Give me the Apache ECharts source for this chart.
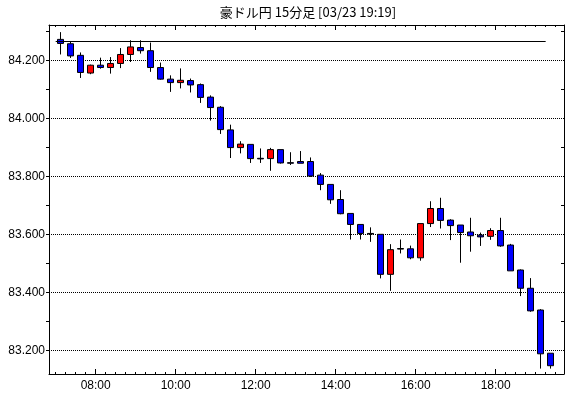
<!DOCTYPE html>
<html><head><meta charset="utf-8">
<script src="https://cdn.jsdelivr.net/npm/echarts@6/dist/echarts.min.js"></script>
<style>html,body{margin:0;padding:0;background:#fff}#c{width:570px;height:398px}</style>
</head><body><div id="c"></div>
<script>
const chartTitle = '豪ドル円 15分足 [03/23 19:19]';
const times = ['07:00','07:15','07:30','07:45','08:00','08:15','08:30','08:45','09:00','09:15',
  '09:30','09:45','10:00','10:15','10:30','10:45','11:00','11:15','11:30','11:45',
  '12:00','12:15','12:30','12:45','13:00','13:15','13:30','13:45','14:00','14:15',
  '14:30','14:45','15:00','15:15','15:30','15:45','16:00','16:15','16:30','16:45',
  '17:00','17:15','17:30','17:45','18:00','18:15','18:30','18:45','19:00','19:15'];
const opens = [84.272,84.257,84.217,84.156,84.183,84.175,84.189,84.220,84.244,84.233,
  84.175,84.135,84.123,84.130,84.116,84.073,84.038,83.960,83.899,83.910,
  83.862,83.861,83.892,83.847,83.851,83.851,83.804,83.772,83.720,83.672,
  83.634,83.603,83.600,83.462,83.551,83.550,83.519,83.637,83.689,83.649,
  83.632,83.608,83.597,83.593,83.613,83.563,83.477,83.414,83.339,83.190];
const closes = [84.258,84.215,84.158,84.183,84.175,84.189,84.220,84.246,84.233,84.175,
  84.135,84.123,84.131,84.115,84.072,84.037,83.961,83.899,83.911,83.861,
  83.860,83.892,83.846,83.845,83.845,83.801,83.772,83.719,83.671,83.634,
  83.603,83.601,83.462,83.547,83.549,83.519,83.637,83.689,83.648,83.630,
  83.606,83.595,83.591,83.613,83.560,83.474,83.414,83.336,83.188,83.147];
const lows = [84.220,84.208,84.139,84.152,84.171,84.154,84.173,84.194,84.223,84.160,
  84.133,84.091,84.103,84.089,84.053,83.992,83.946,83.863,83.879,83.846,
  83.846,83.819,83.844,83.839,83.845,83.798,83.752,83.705,83.669,83.582,
  83.582,83.574,83.448,83.405,83.534,83.514,83.509,83.625,83.620,83.580,
  83.502,83.540,83.560,83.581,83.557,83.474,83.387,83.333,83.137,83.137];
const highs = [84.297,84.266,84.227,84.185,84.209,84.211,84.242,84.269,84.269,84.261,
  84.192,84.148,84.172,84.137,84.120,84.079,84.042,83.978,83.921,83.910,
  83.896,83.898,83.892,83.883,83.887,83.865,83.811,83.772,83.752,83.672,
  83.634,83.624,83.600,83.566,83.582,83.561,83.637,83.714,83.726,83.652,
  83.632,83.657,83.606,83.621,83.657,83.567,83.479,83.449,83.342,83.190];
const refLevel = 84.265;
const refFrom = '07:00';
const refTo = '19:15';
const yTickLabels = ['83.200','83.400','83.600','83.800','84.000','84.200'];
const xTickLabels = ['08:00','10:00','12:00','14:00','16:00','18:00'];

function toMin(t){ const p = t.split(':').map(Number); return p[0]*60 + p[1]; }
const barMinutes = 15;
const candleData = times.map((t,i)=>[toMin(t)+barMinutes/2, opens[i], closes[i], lows[i], highs[i]]);

const xMin = 410, xMax = 1182.5;
const yMin = 83.1184, yMax = 84.3216;
const quarterTicks = [];
for (let m = 420; m <= 1170; m += 15) quarterTicks.push(m);
const hourTicks = xTickLabels.map(toMin);
const yMajor = yTickLabels.map(Number);
const yOdd = [];
for (let k = 832; k <= 843; k++) { if (k % 2 === 1) yOdd.push(k/10); }

const BLACK = '#000';
const font = 'Liberation Sans';
function xAx(pos, ticks, len, showLine, labels) {
  return {
    type:'value', min:xMin, max:xMax, position:pos,
    axisLine:{show:showLine, onZero:false, lineStyle:{color:BLACK, width:1}},
    axisTick:{show:true, inside:true, length:len, customValues:ticks, lineStyle:{color:BLACK, width:1}},
    axisLabel: labels ? {show:true, customValues:hourTicks, margin:6, color:BLACK, fontSize:12, fontFamily:font,
      formatter: v => { const i = hourTicks.indexOf(Math.round(v)); return i >= 0 ? xTickLabels[i] : ''; }} : {show:false},
    splitLine:{show:false}
  };
}
const chart = echarts.init(document.getElementById('c'));
chart.setOption({
  animation:false,
  backgroundColor:'#fff',
  graphic:[{type:'text', x:308, y:12, style:{text:chartTitle, font:'13px "Noto Sans CJK JP"', fill:BLACK, align:'center', verticalAlign:'middle'}}],
  grid:{left:49, top:25, width:515, height:349, show:false},
  xAxis:[
    xAx('bottom', quarterTicks, 2, true, false),
    xAx('bottom', hourTicks, 5, false, true),
    xAx('top', quarterTicks, 2, true, false),
    xAx('top', hourTicks, 5, false, false)
  ],
  yAxis:[
    {type:'value', min:yMin, max:yMax, position:'left',
     axisLine:{show:true, onZero:false, lineStyle:{color:BLACK}},
     axisTick:{show:true, inside:false, length:3, customValues:yMajor, lineStyle:{color:BLACK}},
     axisLabel:{show:true, customValues:yMajor, margin:4, color:BLACK, fontSize:12, fontFamily:font,
       formatter: v => { let best = 0; yMajor.forEach((m,i)=>{ if (Math.abs(m-v) < Math.abs(yMajor[best]-v)) best = i; }); return yTickLabels[best]; }},
     splitLine:{show:true, lineStyle:{type:'dotted', color:BLACK, width:1}}},
    {type:'value', min:yMin, max:yMax, position:'left',
     axisLine:{show:false}, axisTick:{show:true, inside:false, length:3, customValues:yOdd, lineStyle:{color:BLACK}},
     axisLabel:{show:false}, splitLine:{show:false}},
    {type:'value', min:yMin, max:yMax, position:'right',
     axisLine:{show:true, onZero:false, lineStyle:{color:BLACK}}, axisTick:{show:true, inside:true, length:3, customValues:yOdd, lineStyle:{color:BLACK}},
     axisLabel:{show:false}, splitLine:{show:false}}
  ],
  series:[{
    type:'candlestick', xAxisIndex:0, yAxisIndex:0,
    data:candleData, encode:{x:0, y:[1,2,3,4]},
    barWidth:6,
    itemStyle:{color:'#ff0000', color0:'#0000ff', borderColor:BLACK, borderColor0:BLACK, borderColorDoji:BLACK, borderWidth:1},
    markLine:{silent:true, symbol:['none','none'], label:{show:false},
      lineStyle:{color:BLACK, type:'solid', width:1},
      data:[[{coord:[toMin(refFrom), refLevel]}, {coord:[toMin(refTo), refLevel]}]]}
  }]
});
</script></body></html>
